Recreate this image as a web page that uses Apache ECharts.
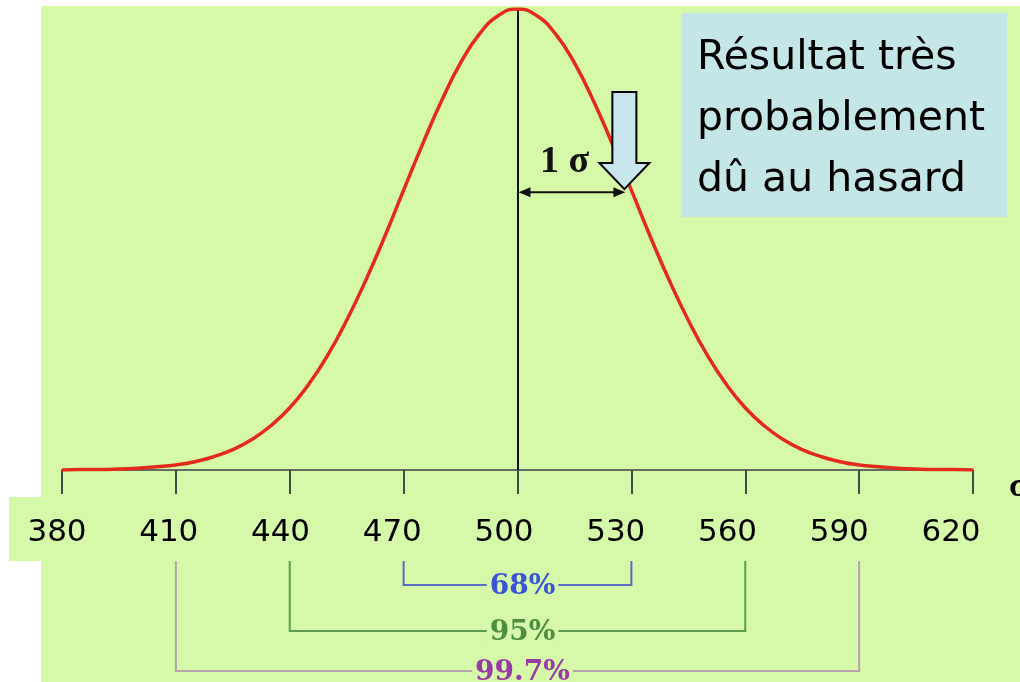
<!DOCTYPE html>
<html>
<head>
<meta charset="utf-8">
<script src="https://cdn.jsdelivr.net/npm/echarts@6/dist/echarts.min.js"></script>
<style>
html,body{margin:0;padding:0;background:#ffffff;}
#chart{width:1020px;height:682px;}
</style>
</head>
<body>
<div id="chart"></div>
<script>
// ---- data ----
const xValues = [380,385,390,395,400,405,410,415,420,425,430,435,440,445,450,455,460,465,470,475,480,485,490,495,500,
                 505,510,515,520,525,530,535,540,545,550,555,560,565,570,575,580,585,590,595,600,605,610,615,620];
// relative height of the curve (peak = 100)
const density = [0.0,0.1,0.1,0.2,0.4,0.7,1.1,1.8,2.9,4.4,6.6,9.6,13.5,18.6,24.9,32.5,41.1,50.6,60.7,70.7,80.1,88.3,94.6,98.6,100,
                 98.6,94.6,88.3,80.1,70.7,60.7,50.6,41.1,32.5,24.9,18.6,13.5,9.6,6.6,4.4,2.9,1.8,1.1,0.7,0.4,0.2,0.1,0.1,0.0];
const tickLabels = ['380','410','440','470','500','530','560','590','620'];
const meanValue = 500;
const sigmaValue = 530;
const bandLabels = ['68%','95%','99.7%'];
const bandLow = [470,440,410];
const bandHigh = [530,560,590];
const bandLineColors = ['#5a6cc0','#5e9a4e','#b8a2ae'];
const bandTextColors = ['#3a52d6','#4e8e3e','#9a3aa6'];
const boxLines = ['Résultat très','probablement','dû au hasard'];

const chart = echarts.init(document.getElementById('chart'), null, {renderer:'canvas'});
const BG = '#d5f8a9';

const option = {
  animation:false,
  backgroundColor:'#ffffff',
  grid:[
    {left:62, right:47, top:9, bottom:212, containLabel:false, outerBoundsMode:'none'},
    {left:57, right:69, top:400, height:98, containLabel:false, outerBoundsMode:'none'}
  ],
  xAxis:[
    {gridIndex:0, type:'value', min:380, max:620, interval:30, z:3,
     axisLine:{show:true, onZero:false, lineStyle:{color:'#5f6e60', width:2}},
     axisTick:{show:true, length:24, lineStyle:{color:'#3e4e40', width:2}},
     axisLabel:{show:false}, splitLine:{show:false},
     name:'σ', nameLocation:'end', nameGap:36,
     nameTextStyle:{fontFamily:'Liberation Serif', fontWeight:'bold', fontSize:34, color:'#000', verticalAlign:'top'}
    },
    {gridIndex:1, type:'value', min:380, max:620, interval:30, z:5,
     axisLine:{show:false}, axisTick:{show:false}, splitLine:{show:false},
     axisLabel:{show:true, margin:19, fontFamily:'DejaVu Sans', fontSize:31, color:'#000',
       formatter:function(v){ const i = Math.round((v-380)/30); return tickLabels[i] || ''; }}
    }
  ],
  yAxis:[
    {gridIndex:0, type:'value', min:0, max:100, show:false},
    {gridIndex:1, type:'value', min:0, max:1, show:false}
  ],
  series:[
    {type:'line', xAxisIndex:0, yAxisIndex:0, smooth:true, showSymbol:false, z:5,
     data:xValues.map((x,i)=>[x,density[i]]),
     lineStyle:{color:'#e42a1c', width:3.5},
     markLine:{silent:true, symbol:['none','none'], label:{show:false},
       lineStyle:{color:'#101010', width:2, type:'solid'},
       data:[{xAxis:meanValue}]}
    }
  ]
};
chart.setOption(option);

function buildGraphics(){
  const px = v => chart.convertToPixel({gridIndex:0}, [v,0])[0];
  const py = v => chart.convertToPixel({gridIndex:0}, [500,v])[1];
  const g = [];
  // background panel
  g.push({type:'rect', z:-10, silent:true, shape:{x:41,y:6,width:979,height:676}, style:{fill:BG}});
  // label band
  g.push({type:'rect', z:-9, silent:true, shape:{x:9,y:497,width:1011,height:64}, style:{fill:BG}});

  // brackets
  const bracketY = [585,631,671];
  for(let i=0;i<bandLabels.length;i++){
    const x1 = px(bandLow[i]), x2 = px(bandHigh[i]), y = bracketY[i];
    g.push({type:'polyline', z:0, silent:true,
      shape:{points:[[x1,561],[x1,y],[x2,y],[x2,561]]},
      style:{stroke:bandLineColors[i], lineWidth:2, fill:null}});
    const cx = px(meanValue)+5;
    g.push({type:'text', z:2, silent:true, x:cx, y:y+2,
      style:{text:bandLabels[i], fontFamily:'DejaVu Serif', fontWeight:'bold', fontSize:28,
        fill:bandTextColors[i], align:'center', verticalAlign:'middle',
        backgroundColor:BG, padding:[0,3]}});
  }

  // sigma double arrow
  const ySig = py(density[xValues.indexOf(sigmaValue)]) + 2;
  const xa = px(meanValue)+1, xb = px(sigmaValue)-6;
  g.push({type:'line', z:6, silent:true, shape:{x1:xa+8,y1:ySig,x2:xb-8,y2:ySig}, style:{stroke:'#111',lineWidth:2}});
  g.push({type:'polygon', z:6, silent:true, shape:{points:[[xa,ySig],[xa+12,ySig-5],[xa+12,ySig+5]]}, style:{fill:'#111'}});
  g.push({type:'polygon', z:6, silent:true, shape:{points:[[xb,ySig],[xb-12,ySig-5],[xb-12,ySig+5]]}, style:{fill:'#111'}});
  g.push({type:'text', z:6, silent:true, x:px(meanValue)+47, y:ySig-30,
    style:{text:'1 σ', fontFamily:'Liberation Serif', fontWeight:'bold', fontSize:38, fill:'#111', align:'center', verticalAlign:'middle'}});

  // block arrow pointing at the curve
  const tipX = px(sigmaValue)-7, tipY = ySig-3;
  g.push({type:'polygon', z:7, silent:true,
    shape:{points:[[tipX-12,92],[tipX+12,92],[tipX+12,163],[tipX+25,163],[tipX,tipY],[tipX-25,163],[tipX-12,163]]},
    style:{fill:'#c8e6ee', stroke:'#000', lineWidth:2}});

  // text box
  g.push({type:'rect', z:8, silent:true, shape:{x:682,y:13,width:325,height:204}, style:{fill:'#c5e6e6'}});
  for(let i=0;i<boxLines.length;i++){
    g.push({type:'text', z:9, silent:true, x:697, y:58+i*61,
      style:{text:boxLines[i], fontFamily:'DejaVu Sans', fontSize:41, fill:'#000', align:'left', verticalAlign:'middle'}});
  }
  chart.setOption({graphic:{elements:g}});
}
buildGraphics();
</script>
</body>
</html>
